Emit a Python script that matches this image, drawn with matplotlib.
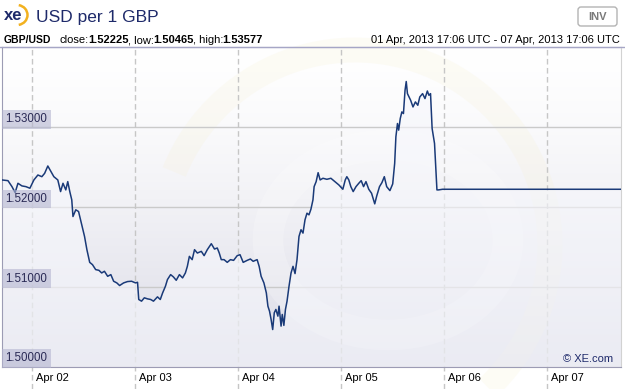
import numpy as np
import pandas as pd
import matplotlib
matplotlib.use('Agg')
import matplotlib.pyplot as plt
from matplotlib.patches import Arc, Ellipse, FancyBboxPatch
from matplotlib.transforms import ScaledTranslation

plt.rcParams['font.family'] = ['Liberation Sans', 'DejaVu Sans']

# GBP/USD, hours after 01 Apr 2013 17:06 UTC
start = pd.Timestamp('2013-04-01 17:06')
hours = [0.0, 1.39, 2.32, 3.06, 3.71, 4.64, 5.56, 6.49, 7.42, 8.35, 9.27, 9.92,
         10.66, 11.41, 12.06, 12.98, 13.63, 14.19, 14.84, 15.30, 15.77, 16.23,
         16.51, 17.16, 17.81, 18.55, 19.20, 19.75, 20.40, 21.05, 21.79, 22.54,
         23.19, 23.83, 24.58, 25.32, 25.97, 26.71, 27.36, 28.29, 29.21, 30.14,
         31.07, 31.53, 31.81, 32.46, 33.11, 33.85, 34.59, 35.24, 36.17, 36.82,
         37.37, 38.02, 38.49, 39.23, 39.88, 40.53, 41.27, 42.01, 42.66, 43.12,
         43.59, 44.24, 44.79, 45.44, 46.37, 47.02, 47.76, 48.69, 49.43, 50.08,
         50.54, 51.01, 51.66, 52.40, 53.14, 53.88, 54.72, 55.37, 56.11, 57.04,
         57.78, 58.43, 59.35, 59.82, 60.28, 60.93, 61.49, 61.86, 62.23, 62.60,
         62.97, 63.34, 63.71, 64.18, 64.45, 64.92, 65.20, 65.57, 65.94, 66.31,
         66.77, 67.24, 67.70, 68.17, 68.63, 69.09, 69.56, 70.02, 70.49, 70.95,
         71.41, 71.87, 72.34, 72.61, 73.08, 73.54, 74.01, 74.66, 75.58, 76.51,
         77.44, 78.37, 79.29, 79.85, 80.22, 80.68, 81.15, 81.70, 82.35, 83.00,
         83.56, 84.11, 84.67, 85.32, 85.97, 86.71, 87.18, 87.82, 88.38, 88.94,
         89.49, 90.24, 90.89, 91.35, 91.63, 92.00, 92.28, 92.65, 93.02, 93.39,
         93.76, 94.04, 94.32, 95.06, 95.61, 96.17, 96.73, 97.19, 97.84, 98.40,
         98.95, 99.32, 99.69, 100.06, 100.62, 100.90, 101.18, 101.55, 102.48, 144.0]
rates = [1.52342, 1.52333, 1.52258, 1.52183, 1.52300, 1.52267, 1.52258, 1.52238,
         1.52342, 1.52404, 1.52383, 1.52425, 1.52517, 1.52446, 1.52383, 1.52342,
         1.52196, 1.52300, 1.52217, 1.52321, 1.52196, 1.52092, 1.51883, 1.51967,
         1.51946, 1.51779, 1.51633, 1.51467, 1.51308, 1.51279, 1.51217, 1.51208,
         1.51175, 1.51196, 1.51133, 1.51154, 1.51071, 1.51050, 1.51017, 1.51050,
         1.51067, 1.51071, 1.51050, 1.51058, 1.50842, 1.50821, 1.50863, 1.50850,
         1.50842, 1.50821, 1.50875, 1.50842, 1.50925, 1.51008, 1.51092, 1.51154,
         1.51125, 1.51083, 1.51154, 1.51113, 1.51175, 1.51258, 1.51383, 1.51342,
         1.51467, 1.51425, 1.51446, 1.51392, 1.51467, 1.51542, 1.51475, 1.51488,
         1.51425, 1.51342, 1.51342, 1.51308, 1.51342, 1.51333, 1.51392, 1.51404,
         1.51308, 1.51333, 1.51350, 1.51321, 1.51342, 1.51258, 1.51133, 1.51050,
         1.50925, 1.50758, 1.50696, 1.50592, 1.50465, 1.50675, 1.50717, 1.50633,
         1.50758, 1.50508, 1.50654, 1.50517, 1.50717, 1.50821, 1.51008, 1.51175,
         1.51258, 1.51167, 1.51342, 1.51633, 1.51717, 1.51675, 1.51842, 1.51925,
         1.51904, 1.51975, 1.52092, 1.52258, 1.52321, 1.52433, 1.52342, 1.52363,
         1.52350, 1.52363, 1.52321, 1.52279, 1.52225, 1.52342, 1.52383, 1.52342,
         1.52258, 1.52196, 1.52258, 1.52300, 1.52333, 1.52258, 1.52321, 1.52225,
         1.52175, 1.52042, 1.52142, 1.52258, 1.52308, 1.52383, 1.52258, 1.52208,
         1.52292, 1.52550, 1.52883, 1.53050, 1.52967, 1.53113, 1.53196, 1.53175,
         1.53467, 1.53577, 1.53425, 1.53342, 1.53258, 1.53321, 1.53279, 1.53383,
         1.53425, 1.53363, 1.53458, 1.53404, 1.53425, 1.52988, 1.52800, 1.52508,
         1.52217, 1.52217, 1.52225, 1.52225]

day_labels = ['Apr 02', 'Apr 03', 'Apr 04', 'Apr 05', 'Apr 06', 'Apr 07']
rate_ticks = [1.50, 1.51, 1.52, 1.53]

pair = 'GBP/USD'
title = 'USD per 1 GBP'
stats = [('close:', '1.52225'), (', low:', '1.50465'), (', high:', '1.53577')]
period = '01 Apr, 2013 17:06 UTC - 07 Apr, 2013 17:06 UTC'

navy = '#1e2a6a'
line_col = '#1a3a78'
W, H = 625, 389
px0, px1, py0, py1 = 2, 621, 47, 367   # plot box in pixels

fig = plt.figure(figsize=(W / 100, H / 100), dpi=100)

# background layer in pixel coordinates
bg = fig.add_axes([0, 0, 1, 1])
bg.set_xlim(0, W)
bg.set_ylim(H, 0)
bg.axis('off')

g = np.linspace(0, 1, 256)[:, None] ** 1.4
top_c = np.array([1.0, 1.0, 1.0])
bot_c = np.array([0.855, 0.855, 0.90])
grad = top_c + (bot_c - top_c) * g[:, :, None]
bg.imshow(grad, extent=(px0, px1, py1, py0), aspect='auto', zorder=0)

# faint xe watermark
bg.add_patch(Arc((355, 245), 390, 390, theta1=-158, theta2=47,
                 color='#f6efcc', lw=18, alpha=0.18, zorder=1))
bg.add_patch(Ellipse((388, 240), 240, 190, fc='none', ec='#ffffff',
                     lw=22, alpha=0.22, zorder=1))
bg.set_xlim(0, W)
bg.set_ylim(H, 0)

# header
bg.text(4, 15, 'xe', fontsize=12, fontweight='bold', color=navy, va='center')
bg.add_patch(Arc((17, 15), 21, 20, theta1=-80, theta2=80, color='#f2b11f', lw=1.8))
bg.text(36, 22, title, fontsize=12.5, color=navy, va='baseline')
bg.add_patch(FancyBboxPatch((578, 7), 39, 19, boxstyle='round,pad=0,rounding_size=3',
                            ec='#b4b4b4', fc='white', lw=1))
bg.text(597.5, 16.5, 'INV', fontsize=8, fontweight='bold', color='#7a7a7a',
        ha='center', va='center')
bg.text(4, 40, pair, fontsize=7.5, fontweight='bold', va='center')
bg.text(620, 40, period, fontsize=8, ha='right', va='center')
bg.plot([0, W], [py0, py0], color='#a6a6c6', lw=1)

r = fig.canvas.get_renderer()
x = 60
for lab, val in stats:
    for s, w in ((lab, 'normal'), (val, 'bold')):
        t = bg.text(x, 40, s, fontsize=8, fontweight=w, va='center')
        bb = t.get_window_extent(r)
        x = bg.transData.inverted().transform((bb.x1, bb.y0))[0] - 0.8

# chart
ax = fig.add_axes([px0 / W, (H - py1) / H, (px1 - px0) / W, (py1 - py0) / H])
ax.set_facecolor('none')

t = (start + pd.to_timedelta(hours, unit='h')).values
ax.fill_between(t, rates, 1.4, color='#f6f7fc', alpha=0.6, lw=0, zorder=2)
ax.plot(t, rates, color=line_col, lw=1.1, zorder=3)

ax.set_xlim(start, start + pd.Timedelta(days=6))
ax.set_ylim(1.49995, 1.5401)

for v in rate_ticks:
    ax.axhline(v, color='#cacaca', lw=1, zorder=1)
    ax.annotate(f'{v:.5f}', xy=(0, v), xycoords=('axes fraction', 'data'),
                xytext=(2.5, 1.6), textcoords='offset points', fontsize=8.3,
                color='#2a2a55', ha='left', va='bottom', zorder=4,
                bbox=dict(boxstyle='square,pad=0.28', fc='#b4b5d0', ec='none', alpha=0.6))

days = pd.date_range('2013-04-02', periods=len(day_labels), freq='D')
for d in days:
    ax.axvline(d, ymin=-22 / 320, ymax=1, clip_on=False, color='#c6c6c6',
               lw=1, ls=(0, (4, 2.5)), zorder=1)
ax.set_xticks(days)
ax.set_xticklabels(day_labels)
ax.set_yticks([])
ax.tick_params(axis='x', length=0, pad=4.5, labelsize=8, colors='black')
for lab in ax.get_xticklabels():
    lab.set_ha('left')
    lab.set_transform(lab.get_transform() + ScaledTranslation(4 / 100, 0, fig.dpi_scale_trans))

ax.spines['left'].set_color('#9c9cb4')
ax.spines['bottom'].set_color('#9c9cb4')
ax.spines['top'].set_color('#a6a6c6')
ax.spines['right'].set_color('#d2d2d2')

ax.text(0.987, 0.025, '© XE.com', transform=ax.transAxes, ha='right', va='center',
        fontsize=8, color=navy)

fig.savefig('out.png', dpi=100)
